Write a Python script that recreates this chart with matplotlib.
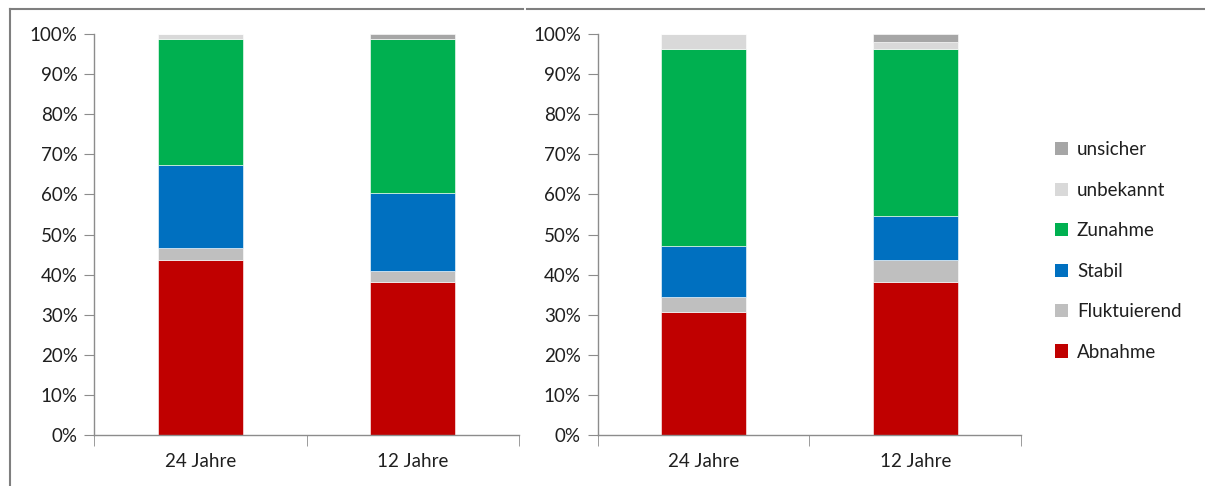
import numpy as np
import matplotlib
matplotlib.use('Agg')
import matplotlib.pyplot as plt
from matplotlib.lines import Line2D
from matplotlib.patches import Patch

plt.rcParams['font.family'] = ['Lato', 'DejaVu Sans']

categories = ['24 Jahre', '12 Jahre']
series = ['Abnahme', 'Fluktuierend', 'Stabil', 'Zunahme', 'unbekannt', 'unsicher']
colors = ['#C00000', '#BFBFBF', '#0070C0', '#00B050', '#D9D9D9', '#A6A6A6']

# percentages per series, [24 Jahre, 12 Jahre]
left_values = {
    'Abnahme': [43.6, 38.2],
    'Fluktuierend': [3.0, 2.8],
    'Stabil': [20.7, 19.3],
    'Zunahme': [31.5, 38.5],
    'unbekannt': [1.2, 0.0],
    'unsicher': [0.0, 1.2],
}
right_values = {
    'Abnahme': [30.8, 38.1],
    'Fluktuierend': [3.7, 5.5],
    'Stabil': [12.6, 11.1],
    'Zunahme': [49.2, 41.6],
    'unbekannt': [3.7, 1.8],
    'unsicher': [0.0, 1.9],
}

fig = plt.figure(figsize=(12.05, 4.86), dpi=100)
ax1 = fig.add_axes([0.0784, 0.1049, 0.3523, 0.8251])
ax2 = fig.add_axes([0.4959, 0.1049, 0.3515, 0.8251])

axis_gray = '#8C8C8C'
text_col = '#1F1F1F'
fs = 13.5

for ax, vals in [(ax1, left_values), (ax2, right_values)]:
    x = np.arange(len(categories))
    bottom = np.zeros(len(categories))
    for name, col in zip(series, colors):
        v = np.array(vals[name])
        ax.bar(x, v, 0.4, bottom=bottom, color=col, edgecolor='white', linewidth=0.4)
        bottom += v
    ax.set_xlim(-0.5, 1.5)
    ax.set_ylim(0, 100)
    ax.set_yticks(np.arange(0, 101, 10))
    ax.set_yticklabels([f'{t}%' for t in range(0, 101, 10)], fontsize=fs, color=text_col)
    ax.set_xticks(x)
    ax.set_xticklabels(categories, fontsize=fs, color=text_col)
    ax.set_xticks([-0.5, 0.5, 1.5], minor=True)
    ax.tick_params(axis='x', which='major', length=0, pad=13)
    ax.tick_params(axis='x', which='minor', length=8, color=axis_gray)
    ax.tick_params(axis='y', length=7, color=axis_gray, pad=5)
    for s in ['top', 'right']:
        ax.spines[s].set_visible(False)
    for s in ['left', 'bottom']:
        ax.spines[s].set_color(axis_gray)
        ax.spines[s].set_linewidth(1)

handles = [Patch(facecolor=c, edgecolor='none') for c in colors]
leg = fig.legend(handles[::-1], series[::-1], loc='center left',
                 bbox_to_anchor=(0.868, 0.4836), frameon=False, fontsize=fs,
                 labelspacing=1.25, handlelength=0.7, handleheight=0.7,
                 handletextpad=0.45, borderpad=0)
for t in leg.get_texts():
    t.set_color(text_col)

# screenshot frame
fig.add_artist(Line2D([10 / 1205, 10 / 1205], [0, 1 - 9 / 486], color='#7F7F7F', lw=1.5))
fig.add_artist(Line2D([10 / 1205, 523 / 1205], [1 - 9 / 486, 1 - 9 / 486], color='#7F7F7F', lw=1.5))
fig.add_artist(Line2D([527 / 1205, 1], [1 - 9 / 486, 1 - 9 / 486], color='#7F7F7F', lw=1.5))

fig.savefig('out.png', dpi=100)
